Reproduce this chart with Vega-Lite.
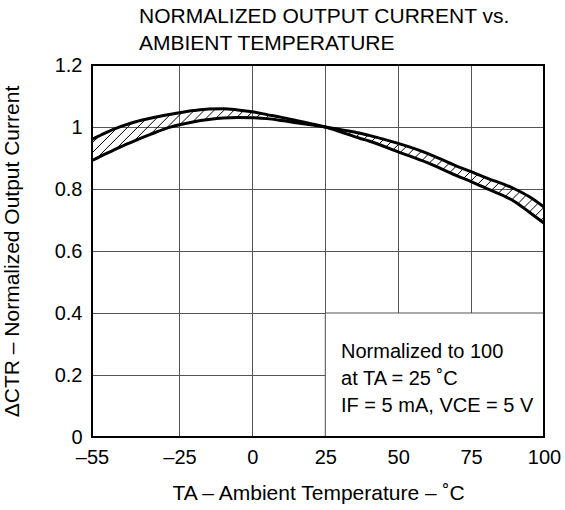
{
  "$schema": "https://vega.github.io/schema/vega-lite/v6.json",
  "width": 452,
  "height": 372,
  "autosize": "none",
  "padding": {"left": 92, "top": 65, "right": 21, "bottom": 73},
  "config": {
    "view": {"stroke": null},
    "font": "Liberation Sans",
    "axis": {
      "grid": true,
      "gridColor": "#555555",
      "gridWidth": 1,
      "gridOpacity": 1,
      "ticks": false,
      "domain": false,
      "labelFlush": false,
      "labelFont": "Liberation Sans",
      "labelFontSize": 20,
      "labelColor": "black",
      "titleFont": "Liberation Sans",
      "titleFontSize": 21,
      "titleFontWeight": "normal",
      "titleColor": "black"
    }
  },
  "title": {
    "text": ["NORMALIZED OUTPUT CURRENT vs.", "AMBIENT TEMPERATURE"],
    "anchor": "start",
    "frame": "group",
    "dx": 47,
    "offset": 1,
    "fontSize": 21,
    "fontWeight": "normal",
    "font": "Liberation Sans",
    "lineHeight": 27,
    "color": "black"
  },
  "datasets": {
    "box": [{"t": 25, "t2": 100, "v": 0, "v2": 0.4}],
    "frame": [{"t": -55, "t2": 100, "v": 0, "v2": 1.2}],
    "notes": [
      {"t": 30.4, "v": 0.255, "label": "Normalized to 100"},
      {"t": 30.4, "v": 0.168, "label": "at TA = 25 ˚C"},
      {"t": 30.4, "v": 0.081, "label": "IF = 5 mA, VCE = 5 V"}
    ],
    "curves": [
      {"series": "upper", "t": -55, "v": 0.960},
      {"series": "upper", "t": -50, "v": 0.983},
      {"series": "upper", "t": -45, "v": 1.002},
      {"series": "upper", "t": -40, "v": 1.017},
      {"series": "upper", "t": -35, "v": 1.028},
      {"series": "upper", "t": -30, "v": 1.038},
      {"series": "upper", "t": -25, "v": 1.046},
      {"series": "upper", "t": -20, "v": 1.053},
      {"series": "upper", "t": -15, "v": 1.058},
      {"series": "upper", "t": -10, "v": 1.059},
      {"series": "upper", "t": -5, "v": 1.055},
      {"series": "upper", "t": 0, "v": 1.049},
      {"series": "upper", "t": 5, "v": 1.040},
      {"series": "upper", "t": 10, "v": 1.031},
      {"series": "upper", "t": 15, "v": 1.021},
      {"series": "upper", "t": 20, "v": 1.011},
      {"series": "upper", "t": 25, "v": 1.000},
      {"series": "upper", "t": 30, "v": 0.992},
      {"series": "upper", "t": 37, "v": 0.980},
      {"series": "upper", "t": 40, "v": 0.973},
      {"series": "upper", "t": 50, "v": 0.947},
      {"series": "upper", "t": 60, "v": 0.915},
      {"series": "upper", "t": 70, "v": 0.874},
      {"series": "upper", "t": 75, "v": 0.856},
      {"series": "upper", "t": 80, "v": 0.837},
      {"series": "upper", "t": 90, "v": 0.800},
      {"series": "upper", "t": 95, "v": 0.775},
      {"series": "upper", "t": 100, "v": 0.742},
      {"series": "lower", "t": -55, "v": 0.892},
      {"series": "lower", "t": -50, "v": 0.915},
      {"series": "lower", "t": -45, "v": 0.937},
      {"series": "lower", "t": -40, "v": 0.957},
      {"series": "lower", "t": -35, "v": 0.976},
      {"series": "lower", "t": -30, "v": 0.994},
      {"series": "lower", "t": -25, "v": 1.007},
      {"series": "lower", "t": -20, "v": 1.017},
      {"series": "lower", "t": -15, "v": 1.024},
      {"series": "lower", "t": -10, "v": 1.029},
      {"series": "lower", "t": -5, "v": 1.031},
      {"series": "lower", "t": 0, "v": 1.030},
      {"series": "lower", "t": 5, "v": 1.027},
      {"series": "lower", "t": 10, "v": 1.021},
      {"series": "lower", "t": 15, "v": 1.014},
      {"series": "lower", "t": 20, "v": 1.007},
      {"series": "lower", "t": 25, "v": 1.000},
      {"series": "lower", "t": 30, "v": 0.985},
      {"series": "lower", "t": 37, "v": 0.963},
      {"series": "lower", "t": 40, "v": 0.955},
      {"series": "lower", "t": 50, "v": 0.920},
      {"series": "lower", "t": 60, "v": 0.885},
      {"series": "lower", "t": 70, "v": 0.843},
      {"series": "lower", "t": 75, "v": 0.824},
      {"series": "lower", "t": 80, "v": 0.803},
      {"series": "lower", "t": 90, "v": 0.759},
      {"series": "lower", "t": 95, "v": 0.725},
      {"series": "lower", "t": 100, "v": 0.690}
    ],
    "hatch": [
      {"t": -55, "v": 0.948, "t2": -52.3, "v2": 0.973},
      {"t": -55, "v": 0.916, "t2": -45.9, "v2": 1.002},
      {"t": -53.3, "v": 0.900, "t2": -41.0, "v2": 1.016},
      {"t": -46.8, "v": 0.929, "t2": -36.8, "v2": 1.023},
      {"t": -40.7, "v": 0.954, "t2": -32.6, "v2": 1.031},
      {"t": -35.2, "v": 0.974, "t2": -28.3, "v2": 1.039},
      {"t": -29.3, "v": 0.998, "t2": -24.1, "v2": 1.047},
      {"t": -24.7, "v": 1.009, "t2": -20.0, "v2": 1.053},
      {"t": -20.4, "v": 1.017, "t2": -16.2, "v2": 1.057},
      {"t": -16.4, "v": 1.023, "t2": -12.6, "v2": 1.059},
      {"t": -12.6, "v": 1.027, "t2": -9.2, "v2": 1.059},
      {"t": -8.9, "v": 1.029, "t2": -6.1, "v2": 1.056},
      {"t": -5.3, "v": 1.031, "t2": -3.0, "v2": 1.053},
      {"t": -2.0, "v": 1.030, "t2": 0.0, "v2": 1.049},
      {"t": 1.3, "v": 1.029, "t2": 2.9, "v2": 1.044},
      {"t": 4.5, "v": 1.027, "t2": 5.7, "v2": 1.039},
      {"t": 7.5, "v": 1.024, "t2": 8.6, "v2": 1.034},
      {"t": 10.5, "v": 1.020, "t2": 11.4, "v2": 1.028},
      {"t": 13.4, "v": 1.015, "t2": 14.2, "v2": 1.023},
      {"t": 16.4, "v": 1.011, "t2": 17.0, "v2": 1.017},
      {"t": 19.4, "v": 1.007, "t2": 19.8, "v2": 1.011},
      {"t": 27.9, "v": 0.991, "t2": 28.3, "v2": 0.995},
      {"t": 30.5, "v": 0.984, "t2": 31.2, "v2": 0.990},
      {"t": 33.0, "v": 0.975, "t2": 34.0, "v2": 0.985},
      {"t": 35.6, "v": 0.968, "t2": 36.9, "v2": 0.980},
      {"t": 38.2, "v": 0.960, "t2": 39.7, "v2": 0.974},
      {"t": 40.8, "v": 0.953, "t2": 42.3, "v2": 0.967},
      {"t": 43.3, "v": 0.944, "t2": 45.0, "v2": 0.960},
      {"t": 45.7, "v": 0.935, "t2": 47.7, "v2": 0.953},
      {"t": 48.2, "v": 0.926, "t2": 50.3, "v2": 0.946},
      {"t": 50.7, "v": 0.918, "t2": 52.9, "v2": 0.938},
      {"t": 53.2, "v": 0.909, "t2": 55.4, "v2": 0.930},
      {"t": 55.7, "v": 0.901, "t2": 57.9, "v2": 0.921},
      {"t": 58.1, "v": 0.891, "t2": 60.4, "v2": 0.913},
      {"t": 60.6, "v": 0.883, "t2": 62.8, "v2": 0.903},
      {"t": 62.9, "v": 0.872, "t2": 65.2, "v2": 0.894},
      {"t": 65.3, "v": 0.863, "t2": 67.6, "v2": 0.884},
      {"t": 67.6, "v": 0.852, "t2": 69.9, "v2": 0.874},
      {"t": 70.0, "v": 0.843, "t2": 72.4, "v2": 0.866},
      {"t": 72.4, "v": 0.834, "t2": 74.8, "v2": 0.856},
      {"t": 74.8, "v": 0.824, "t2": 77.3, "v2": 0.848},
      {"t": 77.2, "v": 0.815, "t2": 79.7, "v2": 0.838},
      {"t": 79.6, "v": 0.805, "t2": 82.1, "v2": 0.829},
      {"t": 81.9, "v": 0.795, "t2": 84.6, "v2": 0.820},
      {"t": 84.2, "v": 0.785, "t2": 87.0, "v2": 0.811},
      {"t": 86.5, "v": 0.774, "t2": 89.5, "v2": 0.802},
      {"t": 88.8, "v": 0.764, "t2": 91.7, "v2": 0.791},
      {"t": 91.0, "v": 0.752, "t2": 94.0, "v2": 0.781},
      {"t": 93.0, "v": 0.739, "t2": 96.1, "v2": 0.768},
      {"t": 94.9, "v": 0.725, "t2": 98.1, "v2": 0.755},
      {"t": 96.9, "v": 0.712, "t2": 100, "v2": 0.741},
      {"t": 98.8, "v": 0.698, "t2": 100, "v2": 0.709}
    ]
  },
  "encoding": {
    "x": {
      "field": "t",
      "type": "quantitative",
      "scale": {"domain": [-55, 100], "nice": false, "zero": false},
      "axis": {
        "values": [-55, -25, 0, 25, 50, 75, 100],
        "labelExpr": "datum.value < 0 ? '–' + abs(datum.value) : datum.label",
        "labelPadding": 10,
        "title": "TA – Ambient Temperature – ˚C",
        "titlePadding": 15
      }
    },
    "y": {
      "field": "v",
      "type": "quantitative",
      "scale": {"domain": [0, 1.2], "nice": false, "zero": false},
      "axis": {
        "values": [0, 0.2, 0.4, 0.6, 0.8, 1, 1.2],
        "format": "~g",
        "labelPadding": 10,
        "title": "ΔCTR – Normalized Output Current",
        "titlePadding": 32
      }
    }
  },
  "layer": [
    {
      "data": {"name": "box"},
      "mark": {"type": "rect", "fill": "white", "stroke": "#555555", "strokeWidth": 1},
      "encoding": {"x2": {"field": "t2"}, "y2": {"field": "v2"}}
    },
    {
      "data": {"name": "hatch"},
      "mark": {"type": "rule", "color": "black", "strokeWidth": 1},
      "encoding": {"x2": {"field": "t2"}, "y2": {"field": "v2"}}
    },
    {
      "data": {"name": "curves"},
      "mark": {"type": "line", "color": "black", "strokeWidth": 3, "interpolate": "monotone"},
      "encoding": {"detail": {"field": "series"}}
    },
    {
      "data": {"name": "notes"},
      "mark": {"type": "text", "align": "left", "baseline": "alphabetic", "fontSize": 20, "font": "Liberation Sans", "color": "black"},
      "encoding": {"text": {"field": "label"}}
    },
    {
      "data": {"name": "frame"},
      "mark": {"type": "rect", "fillOpacity": 0, "stroke": "black", "strokeWidth": 2},
      "encoding": {"x2": {"field": "t2"}, "y2": {"field": "v2"}}
    }
  ]
}
